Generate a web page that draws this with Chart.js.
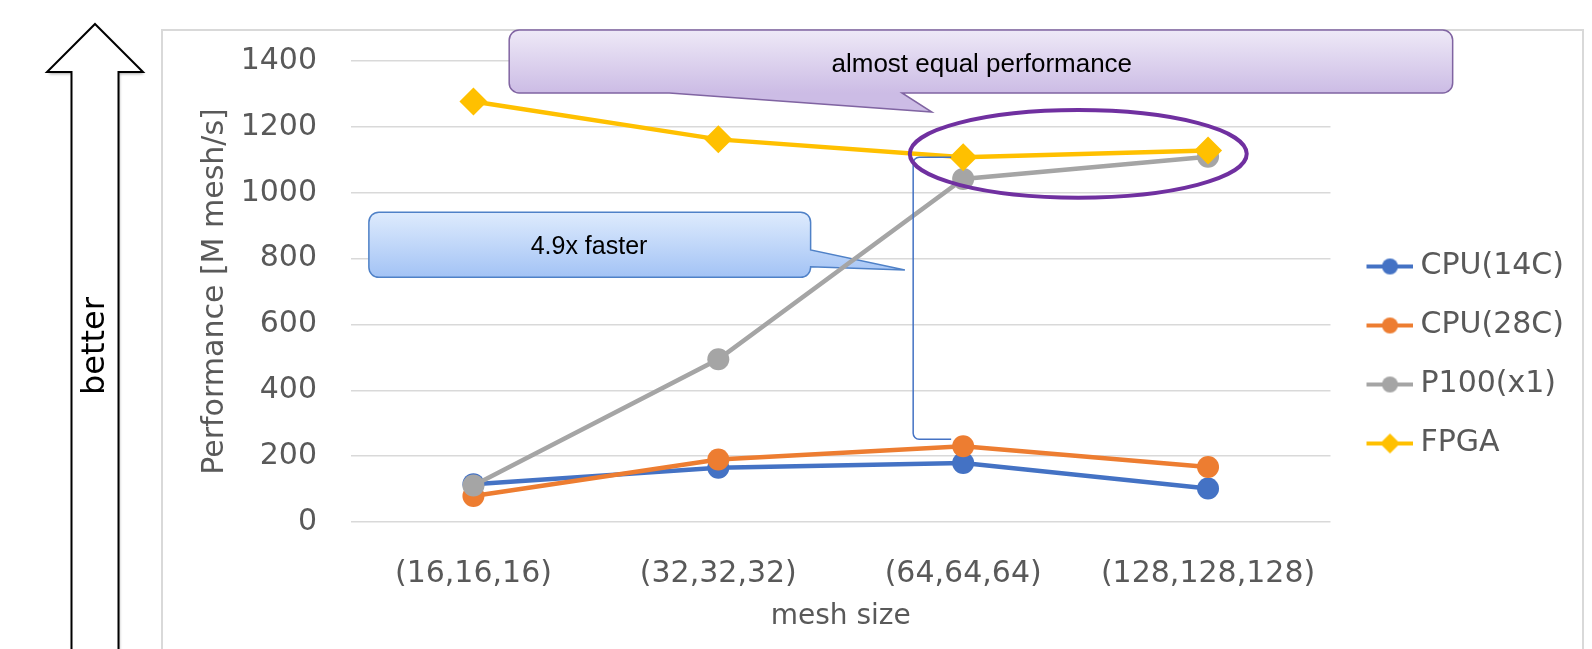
<!DOCTYPE html>
<html>
<head>
<meta charset="utf-8">
<title>Performance vs mesh size</title>
<script src="https://cdn.jsdelivr.net/npm/chart.js@4.4.0/dist/chart.umd.min.js"></script>
<style>
  html, body { margin: 0; padding: 0; background: #fff; }
</style>
</head>
<body>
<canvas id="perfChart" width="1592" height="649"></canvas>
<script>
// data
const meshSizes = ['(16,16,16)', '(32,32,32)', '(64,64,64)', '(128,128,128)'];
const cpu14 = [115, 165, 179, 102];
const cpu28 = [79, 190, 230, 167];
const p100 = [111, 494, 1042, 1109];
const fpga = [1277, 1162, 1108, 1128];
const seriesNames = ['CPU(14C)', 'CPU(28C)', 'P100(x1)', 'FPGA'];

const FONT = "'DejaVu Sans', sans-serif";
const NOTE_FONT = "'Liberation Sans', Arial, sans-serif";
const GREY_TEXT = '#595959';
const COLORS = ['#4472C4', '#ED7D31', '#A5A5A5', '#FFC000'];

// small "line + marker" icon for the legend
function legendIcon(color, diamond) {
  const c = document.createElement('canvas');
  c.width = 62;
  c.height = 26;
  const g = c.getContext('2d');
  g.strokeStyle = color;
  g.lineWidth = 4;
  g.beginPath();
  g.moveTo(15, 13);
  g.lineTo(62, 13);
  g.stroke();
  g.fillStyle = color;
  g.beginPath();
  const cx = 38.5;
  if (diamond) {
    g.moveTo(cx, 3);
    g.lineTo(cx + 10, 13);
    g.lineTo(cx, 23);
    g.lineTo(cx - 10, 13);
    g.closePath();
  } else {
    g.arc(cx, 13, 8, 0, Math.PI * 2);
  }
  g.fill();
  return c;
}
const legendIcons = COLORS.map((c, i) => legendIcon(c, i === 3));

function calloutPath(ctx, x0, y0, x1, y1, r, tail) {
  ctx.beginPath();
  ctx.moveTo(x0 + r, y0);
  ctx.lineTo(x1 - r, y0);
  ctx.arcTo(x1, y0, x1, y0 + r, r);
  if (tail.side === 'right') {
    ctx.lineTo(x1, tail.a[1]);
    ctx.lineTo(tail.tip[0], tail.tip[1]);
    ctx.lineTo(x1, tail.b[1]);
  }
  ctx.lineTo(x1, y1 - r);
  ctx.arcTo(x1, y1, x1 - r, y1, r);
  if (tail.side === 'bottom') {
    ctx.lineTo(tail.a[0], y1);
    ctx.lineTo(tail.tip[0], tail.tip[1]);
    ctx.lineTo(tail.b[0], y1);
  }
  ctx.lineTo(x0 + r, y1);
  ctx.arcTo(x0, y1, x0, y1 - r, r);
  ctx.lineTo(x0, y0 + r);
  ctx.arcTo(x0, y0, x0 + r, y0, r);
  ctx.closePath();
}

const decorations = {
  id: 'decorations',
  beforeDraw(chart) {
    const ctx = chart.ctx;
    ctx.save();
    // outer frame of the chart object
    ctx.strokeStyle = '#D9D9D9';
    ctx.lineWidth = 2;
    ctx.strokeRect(162, 30, 1421, 700);

    // big "better" arrow on the left
    ctx.shadowColor = 'rgba(0,0,0,0.35)';
    ctx.shadowBlur = 3;
    ctx.shadowOffsetX = 1;
    ctx.shadowOffsetY = 2;
    ctx.beginPath();
    ctx.moveTo(95, 24);
    ctx.lineTo(143, 72);
    ctx.lineTo(118.5, 72);
    ctx.lineTo(118.5, 680);
    ctx.lineTo(71.5, 680);
    ctx.lineTo(71.5, 72);
    ctx.lineTo(47, 72);
    ctx.closePath();
    ctx.fillStyle = '#fff';
    ctx.fill();
    ctx.shadowColor = 'transparent';
    ctx.strokeStyle = '#000';
    ctx.lineWidth = 2;
    ctx.stroke();

    ctx.translate(96, 346);
    ctx.rotate(-Math.PI / 2);
    ctx.fillStyle = '#000';
    ctx.font = '32px ' + FONT;
    ctx.textAlign = 'center';
    ctx.textBaseline = 'middle';
    ctx.fillText('better', 0, 0);
    ctx.restore();
  },
  beforeDatasetsDraw(chart) {
    const ctx = chart.ctx;
    const xs = chart.scales.x, ys = chart.scales.y;
    const px = i => xs.getPixelForValue(i);
    const py = v => ys.getPixelForValue(v);
    ctx.save();

    // purple callout
    let x0 = px(0.146), x1 = px(3.999), y0 = py(1494), y1 = py(1303);
    calloutPath(ctx, x0, y0, x1, y1, 10, {
      side: 'bottom', a: [px(1.75), y1], tip: [px(1.872), py(1245)], b: [px(0.8), y1]
    });
    let grad = ctx.createLinearGradient(0, y0, 0, y1);
    grad.addColorStop(0, '#EEE9F7');
    grad.addColorStop(1, '#CCBCE5');
    ctx.fillStyle = grad;
    ctx.fill();
    ctx.strokeStyle = '#8064A2';
    ctx.lineWidth = 1.5;
    ctx.stroke();
    ctx.fillStyle = '#000';
    ctx.font = '26px ' + NOTE_FONT;
    ctx.textAlign = 'center';
    ctx.textBaseline = 'alphabetic';
    ctx.fillText('almost equal performance', px(2.076), py(1368));

    // blue callout
    x0 = px(-0.427); x1 = px(1.377); y0 = py(941); y1 = py(743);
    calloutPath(ctx, x0, y0, x1, y1, 10, {
      side: 'right', a: [x1, py(826)], tip: [px(1.762), py(765)], b: [x1, py(775)]
    });
    grad = ctx.createLinearGradient(0, y0, 0, y1);
    grad.addColorStop(0, '#DEEBFD');
    grad.addColorStop(1, '#A3C3F5');
    ctx.fillStyle = grad;
    ctx.fill();
    ctx.strokeStyle = '#4F81C7';
    ctx.lineWidth = 1.5;
    ctx.stroke();
    ctx.fillStyle = '#000';
    ctx.font = '25px ' + NOTE_FONT;
    ctx.fillText('4.9x faster', px(0.472), py(814));
    ctx.restore();
  },
  afterDatasetsDraw(chart) {
    const ctx = chart.ctx;
    const xs = chart.scales.x, ys = chart.scales.y;
    const px = i => xs.getPixelForValue(i);
    const py = v => ys.getPixelForValue(v);
    ctx.save();

    // bracket from FPGA down to CPU(28C) at (64,64,64)
    const bx = px(2) - 50, ex = px(2) - 12;
    const ty = py(fpga[2]), by = py(cpu28[2]) - 7, r = 6;
    ctx.strokeStyle = '#4472C4';
    ctx.lineWidth = 1.5;
    ctx.beginPath();
    ctx.moveTo(ex, ty);
    ctx.lineTo(bx + r, ty);
    ctx.arcTo(bx, ty, bx, ty + r, r);
    ctx.lineTo(bx, by - r);
    ctx.arcTo(bx, by, bx + r, by, r);
    ctx.lineTo(ex, by);
    ctx.stroke();

    // ellipse around the last two GPU/FPGA points
    const ex0 = px(1.782), ex1 = px(3.158), ey0 = py(1251), ey1 = py(985);
    ctx.strokeStyle = '#7030A0';
    ctx.lineWidth = 4;
    ctx.beginPath();
    ctx.ellipse((ex0 + ex1) / 2, (ey0 + ey1) / 2, (ex1 - ex0) / 2, (ey1 - ey0) / 2, 0, 0, Math.PI * 2);
    ctx.stroke();
    ctx.restore();
  }
};

function makeSet(idx, values, shape, radius, order) {
  return {
    label: seriesNames[idx],
    data: values,
    borderColor: COLORS[idx],
    backgroundColor: COLORS[idx],
    borderWidth: 4.5,
    pointStyle: shape,
    pointRadius: radius,
    pointBorderWidth: 0,
    pointBackgroundColor: COLORS[idx],
    tension: 0,
    order: order
  };
}

new Chart(document.getElementById('perfChart'), {
  type: 'line',
  data: {
    labels: meshSizes,
    datasets: [
      makeSet(0, cpu14, 'circle', 11, 4),
      makeSet(1, cpu28, 'circle', 11, 3),
      makeSet(2, p100, 'circle', 11, 2),
      makeSet(3, fpga, 'rectRot', 14, 1)
    ]
  },
  options: {
    responsive: false,
    animation: false,
    layout: { padding: { left: 162, top: 61, right: 18, bottom: 0 } },
    scales: {
      x: {
        offset: true,
        grid: { display: false },
        border: { display: false },
        ticks: {
          font: { family: FONT, size: 30 },
          color: GREY_TEXT,
          padding: 26,
          maxRotation: 0,
          autoSkip: false
        },
        title: {
          display: true,
          text: 'mesh size',
          font: { family: FONT, size: 28 },
          color: GREY_TEXT,
          padding: { top: 0, bottom: 15 }
        },
        afterFit: s => { s.height = 127; }
      },
      y: {
        min: 0,
        max: 1400,
        ticks: {
          stepSize: 200,
          padding: 34,
          font: { family: FONT, size: 30 },
          color: GREY_TEXT,
          callback: v => String(v)
        },
        grid: { color: '#D9D9D9', lineWidth: 1.5, drawTicks: false },
        border: { display: false },
        title: {
          display: true,
          text: 'Performance [M mesh/s]',
          font: { family: FONT, size: 30 },
          color: GREY_TEXT,
          padding: { top: 35, bottom: 0 }
        },
        afterFit: s => { s.width = 189; }
      }
    },
    plugins: {
      tooltip: { enabled: false },
      legend: {
        position: 'right',
        align: 'center',
        labels: {
          usePointStyle: true,
          pointStyleWidth: 46,
          padding: 29,
          font: { family: FONT, size: 30 },
          color: GREY_TEXT,
          sort: (a, b) => a.datasetIndex - b.datasetIndex,
          generateLabels(chart) {
            const items = Chart.defaults.plugins.legend.labels.generateLabels(chart);
            items.forEach(it => { it.pointStyle = legendIcons[it.datasetIndex]; });
            return items;
          }
        }
      }
    }
  },
  plugins: [decorations]
});
</script>
</body>
</html>
